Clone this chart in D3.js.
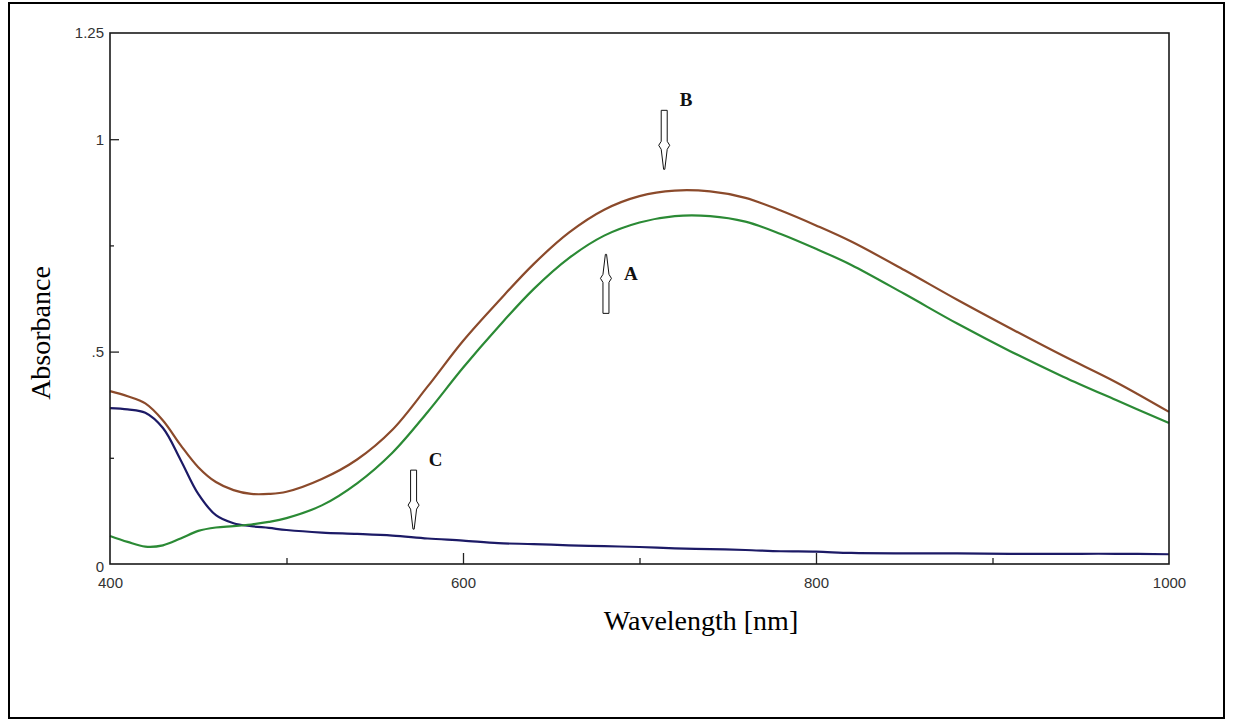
<!DOCTYPE html>
<html>
<head>
<meta charset="utf-8">
<script src="https://cdn.jsdelivr.net/npm/d3@7"></script>
<style>
  html, body { margin: 0; padding: 0; background: #fff; }
  svg { display: block; }
</style>
</head>
<body>
<svg id="chart" width="1234" height="719"></svg>
<script>
// ── Data ─────────────────────────────────────────────
const wavelengths = [400, 410, 420, 430, 440, 450, 460, 470, 480, 490, 500, 520, 540, 560, 580, 600, 620, 640, 660, 680, 700, 720, 740, 760, 780, 800, 820, 850, 880, 910, 940, 970, 1000];
const curveB = [0.407, 0.395, 0.378, 0.338, 0.280, 0.228, 0.193, 0.174, 0.165, 0.165, 0.170, 0.200, 0.246, 0.316, 0.418, 0.525, 0.618, 0.706, 0.780, 0.834, 0.866, 0.879, 0.877, 0.862, 0.832, 0.797, 0.759, 0.692, 0.622, 0.555, 0.490, 0.428, 0.358];
const curveA = [0.066, 0.052, 0.041, 0.044, 0.060, 0.078, 0.086, 0.089, 0.093, 0.099, 0.108, 0.138, 0.190, 0.262, 0.358, 0.462, 0.558, 0.647, 0.720, 0.773, 0.804, 0.819, 0.819, 0.806, 0.777, 0.742, 0.704, 0.636, 0.566, 0.501, 0.441, 0.386, 0.332];
const curveC = [0.367, 0.364, 0.356, 0.320, 0.245, 0.165, 0.115, 0.096, 0.089, 0.085, 0.080, 0.074, 0.071, 0.067, 0.060, 0.055, 0.049, 0.047, 0.044, 0.042, 0.040, 0.037, 0.035, 0.033, 0.030, 0.029, 0.026, 0.025, 0.025, 0.024, 0.024, 0.024, 0.023];

const xTickLabels = [400, 600, 800, 1000];
const xMinorTicks = [500, 700, 900];
const yTickLabels = [0, 0.5, 1, 1.25];
const yMinorTicks = [0.25, 0.75];

// arrows: wavelength / absorbance of the tail, direction, letter
const arrowNames = ['B', 'A', 'C'];
const arrowWl = [714, 681, 572];
const arrowTail = [1.068, 0.590, 0.221];
const arrowDir = ['down', 'up', 'down'];

const lineColors = { B: '#8b4a2b', A: '#2b8a35', C: '#1c1a66' };

// ═══════════════════════════════════════════════════════
// SETUP
// ═══════════════════════════════════════════════════════
const svg = d3.select('#chart');
const plotL = 110, plotR = 1169, plotT = 33, plotB = 564;

const x = d3.scaleLinear().domain([400, 1000]).range([plotL, plotR]);
const y = d3.scaleLinear().domain([0, 1.25]).range([plotB, plotT]);

// outer frame
svg.append('rect')
  .attr('x', 9).attr('y', 3).attr('width', 1215).attr('height', 715)
  .attr('fill', 'none').attr('stroke', '#000').attr('stroke-width', 2);

// ── Curves ───────────────────────────────────────────
const line = d3.line()
  .x(d => x(d[0]))
  .y(d => y(d[1]))
  .curve(d3.curveCatmullRom.alpha(0.5));

[['C', curveC], ['A', curveA], ['B', curveB]].forEach(([key, vals]) => {
  svg.append('path')
    .datum(wavelengths.map((w, i) => [w, vals[i]]))
    .attr('fill', 'none')
    .attr('stroke', lineColors[key])
    .attr('stroke-width', 2.2)
    .attr('d', line);
});

// ── Axes (ticks point inward) ────────────────────────
const tickFont = '"Liberation Sans", Arial, sans-serif';
const fmtY = d => d === 0 ? '0' : d === 0.5 ? '.5' : String(d);

const xAxis = svg.append('g').attr('transform', `translate(0,${plotB})`)
  .call(d3.axisBottom(x).tickValues(xTickLabels).tickSize(-11).tickPadding(9).tickFormat(d3.format('d')));
xAxis.select('.domain').remove();
xAxis.selectAll('.tick').filter(d => d === 400 || d === 1000).select('line').remove();
xAxis.selectAll('text').attr('font-family', tickFont).attr('font-size', 15).attr('fill', '#333').attr('dy', '1.0em');

const xMinor = svg.append('g').attr('transform', `translate(0,${plotB})`)
  .call(d3.axisBottom(x).tickValues(xMinorTicks).tickSize(-6).tickFormat(''));
xMinor.select('.domain').remove();

const yAxis = svg.append('g').attr('transform', `translate(${plotL},0)`)
  .call(d3.axisLeft(y).tickValues(yTickLabels).tickSize(-9).tickPadding(6).tickFormat(fmtY));
yAxis.select('.domain').remove();
yAxis.selectAll('.tick').filter(d => d === 0 || d === 1.25).select('line').remove();
yAxis.selectAll('text').attr('font-family', tickFont).attr('font-size', 15).attr('fill', '#333');
yAxis.selectAll('.tick').filter(d => d === 0).select('text').attr('dy', '0.5em');

const yMinor = svg.append('g').attr('transform', `translate(${plotL},0)`)
  .call(d3.axisLeft(y).tickValues(yMinorTicks).tickSize(-4).tickFormat(''));
yMinor.select('.domain').remove();

svg.selectAll('.tick line').attr('stroke', '#222').attr('stroke-width', 1.3);

// plot box
svg.append('rect')
  .attr('x', plotL).attr('y', plotT).attr('width', plotR - plotL).attr('height', plotB - plotT)
  .attr('fill', 'none').attr('stroke', '#1a1a1a').attr('stroke-width', 1.6);

// ── Axis titles ──────────────────────────────────────
const serif = '"Liberation Serif", "Times New Roman", serif';
svg.append('text')
  .attr('x', 701).attr('y', 630)
  .attr('text-anchor', 'middle')
  .attr('font-family', serif).attr('font-size', 28)
  .text('Wavelength [nm]');

svg.append('text')
  .attr('transform', 'translate(50,333) rotate(-90)')
  .attr('text-anchor', 'middle')
  .attr('font-family', serif).attr('font-size', 28)
  .text('Absorbance');

// ── Hollow arrows with letters ───────────────────────
// shape drawn pointing down, tail at (0,0), tip at (0,59)
const arrowShape = 'M-3,0 L3,0 L3,31 L5.5,35 L3,39 L0.6,59 L-0.6,59 L-3,39 L-5.5,35 L-3,31 Z';

arrowNames.forEach((name, i) => {
  const ax = x(arrowWl[i]);
  const ay = y(arrowTail[i]);
  const up = arrowDir[i] === 'up';
  svg.append('path')
    .attr('d', arrowShape)
    .attr('transform', up ? `translate(${ax},${ay}) scale(1,-1)` : `translate(${ax},${ay})`)
    .attr('fill', '#fff')
    .attr('stroke', '#111')
    .attr('stroke-width', 1);
  svg.append('text')
    .attr('x', ax + (up ? 25 : 22))
    .attr('y', up ? ay - 33 : ay - 4)
    .attr('text-anchor', 'middle')
    .attr('font-family', serif).attr('font-size', 19).attr('font-weight', 'bold')
    .attr('fill', '#111')
    .text(name);
});
</script>
</body>
</html>
